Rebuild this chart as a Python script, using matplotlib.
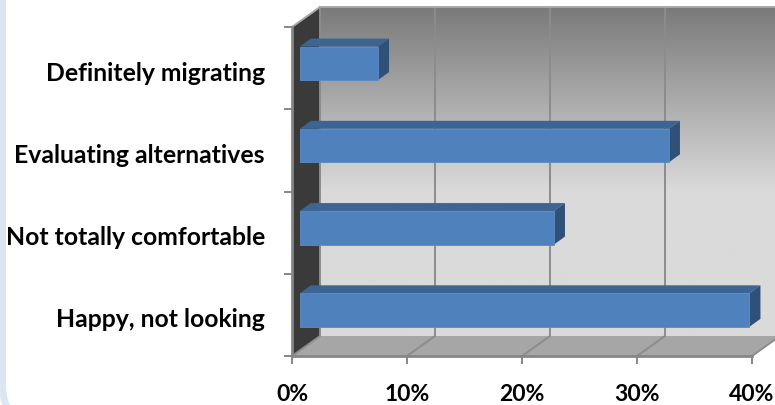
import matplotlib
matplotlib.use("Agg")
import matplotlib.pyplot as plt
import numpy as np
from matplotlib.colors import LinearSegmentedColormap
from matplotlib.patches import FancyBboxPatch, Polygon
from matplotlib.transforms import ScaledTranslation

categories = ["Happy, not looking", "Not totally comfortable", "Evaluating alternatives", "Definitely migrating"]
values = [39.1, 22.1, 32.1, 6.8]
x_ticks = [0, 10, 20, 30, 40]
x_tick_labels = ["0%", "10%", "20%", "30%", "40%"]

W, H = 775, 406
plt.rcParams["font.family"] = ["Lato", "DejaVu Sans"]

fig = plt.figure(figsize=(W / 100, H / 100), dpi=100)

# rounded slide panel behind the chart
bg = fig.add_axes([0, 0, 1, 1])
bg.set_xlim(0, W)
bg.set_ylim(H, 0)
bg.axis("off")
bg.add_patch(FancyBboxPatch((2.5, -60), 900, 489, boxstyle="round,pad=0,rounding_size=44",
                            fc="white", ec="#dce6f2", lw=5))

ax = fig.add_axes([292 / W, 1 - 357 / H, 460 / W, 329 / H])
ax.patch.set_alpha(0)
ax.set_xlim(0, 40)
ax.set_ylim(-0.5, 3.5)

# depth of the fake 3d box, in data units
dx = 28 / 11.5
dy = 20 / 82.25
# bars sit in the middle of the depth
bar_dx0 = 7.8 / 11.5
bar_dy0 = 4.8 / 82.25
bar_dx = 11 / 11.5
bar_dy = 8 / 82.25
bar_h = 33.5 / 82.25

# back wall with gradient
grad = LinearSegmentedColormap.from_list("wall", [(0, "#7a7a7a"), (0.56, "#dadada"), (1, "#dadada")])
ax.imshow(np.linspace(0, 1, 256).reshape(-1, 1), cmap=grad, aspect="auto", zorder=1, clip_on=False,
          extent=(dx, 40 + dx, -0.5 + dy, 3.5 + dy), origin="upper")
ax.set_xlim(0, 40)
ax.set_ylim(-0.5, 3.5)

# side wall and floor
ax.add_patch(Polygon([(0, -0.5), (dx, -0.5 + dy), (dx, 3.5 + dy), (0, 3.5)], fc="#3a3a3a", ec="none", zorder=2, clip_on=False))
ax.add_patch(Polygon([(0, -0.5), (40, -0.5), (40 + dx, -0.5 + dy), (dx, -0.5 + dy)], fc="#a6a6a6", ec="none", zorder=2, clip_on=False))

# grid lines over wall and floor
for t in x_ticks:
    ax.plot([t, t + dx, t + dx], [-0.5, -0.5 + dy, 3.5 + dy], color="#8c8c8c", lw=1.4, zorder=3, clip_on=False)
ax.plot([0, dx, 40 + dx], [3.5, 3.5 + dy, 3.5 + dy], color="#a8a8a8", lw=1.4, zorder=3, clip_on=False)

# bars
ypos = np.arange(len(categories))
for y, v in zip(ypos, values):
    bottom = y + bar_dy0 - bar_h / 2
    top = bottom + bar_h
    x0 = bar_dx0
    x1 = bar_dx0 + v
    ax.add_patch(Polygon([(x0, top), (x1, top), (x1 + bar_dx, top + bar_dy), (x0 + bar_dx, top + bar_dy)],
                         fc="#3d6594", ec="none", zorder=4, clip_on=False))
    ax.add_patch(Polygon([(x1, bottom), (x1 + bar_dx, bottom + bar_dy), (x1 + bar_dx, top + bar_dy), (x1, top)],
                         fc="#2f5079", ec="none", zorder=4, clip_on=False))
ax.barh(ypos + bar_dy0, values, height=bar_h, left=bar_dx0, color="#4f81bd", edgecolor="#5b8bc4", lw=0.6, zorder=5, clip_on=False)

# axes
for s in ["top", "right"]:
    ax.spines[s].set_visible(False)
for s in ["left", "bottom"]:
    ax.spines[s].set_color("#868686")
    ax.spines[s].set_linewidth(2)
    ax.spines[s].set_zorder(6)
ax.set_xticks(x_ticks)
ax.set_xticklabels(x_tick_labels, fontsize=16.5, fontweight="bold", color="black")
ax.set_yticks(ypos)
ax.set_yticklabels(categories, fontsize=17.8, fontweight="bold", color="black")
ax.set_yticks(np.arange(-0.5, 4), minor=True)
ax.tick_params(axis="x", length=6, width=1.4, color="#868686", pad=13.5)
ax.tick_params(axis="y", which="major", length=0, pad=19.5)
ax.tick_params(axis="y", which="minor", length=6, width=1.4, color="#868686")

# labels sit a little lower than the band centre
shift = ScaledTranslation(0, -1.5 / 72, fig.dpi_scale_trans)
for lab in ax.get_yticklabels():
    lab.set_transform(lab.get_transform() + shift)

fig.savefig("out.png", dpi=100)
